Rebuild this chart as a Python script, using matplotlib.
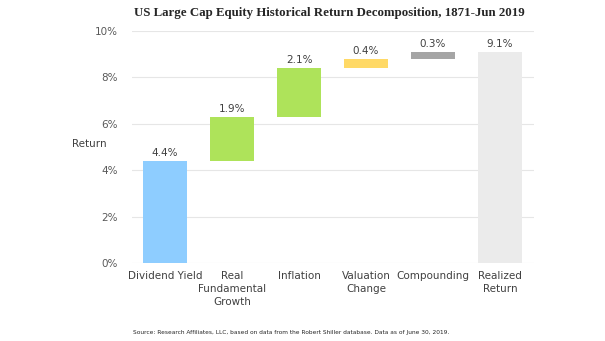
import matplotlib.pyplot as plt

# data
categories = ["Dividend Yield", "Real\nFundamental\nGrowth", "Inflation",
              "Valuation\nChange", "Compounding", "Realized\nReturn"]
contributions = [4.4, 1.9, 2.1, 0.4, 0.3, 9.1]
value_labels = ["4.4%", "1.9%", "2.1%", "0.4%", "0.3%", "9.1%"]
colors = ["#8ECDFF", "#AEE35A", "#AEE35A", "#FFD966", "#A5A5A5", "#EBEBEB"]
y_ticks = [0, 2, 4, 6, 8, 10]

# waterfall bottoms: running sum, last bar is the total from zero
bottoms = []
running = 0.0
for i, v in enumerate(contributions):
    if i == len(contributions) - 1:
        bottoms.append(0.0)
    else:
        bottoms.append(running)
        running += v

fig = plt.figure(figsize=(6.05, 3.41), dpi=100)
ax = fig.add_axes([0.2174, 0.2287, 0.6645, 0.6804])

x = list(range(len(categories)))
ax.bar(x, contributions, bottom=bottoms, width=0.67, color=colors, zorder=3)

for xi, b, v, lab in zip(x, bottoms, contributions, value_labels):
    ax.text(xi, b + v + 0.12, lab, ha="center", va="bottom",
            fontsize=7.5, color="#404040")

ax.set_xlim(-0.5, len(categories) - 0.5)
ax.set_ylim(0, 10)
ax.set_yticks(y_ticks)
ax.set_yticklabels([f"{t}%" for t in y_ticks])
ax.set_xticks(x)
ax.set_xticklabels(categories, fontsize=7.5, color="#404040", linespacing=1.35)
ax.tick_params(axis="y", labelsize=7.5, colors="#595959", length=0, pad=10)
ax.tick_params(axis="x", length=0, pad=6)
ax.grid(axis="y", color="#E6E6E6", linewidth=0.8, zorder=0)
for s in ax.spines.values():
    s.set_visible(False)

ax.set_ylabel("Return", rotation=0, fontsize=7.5, color="#404040", labelpad=14)
ax.yaxis.set_label_coords(-0.105, 0.49)

fig.text(0.545, 0.962, "US Large Cap Equity Historical Return Decomposition, 1871-Jun 2019",
         ha="center", va="center", fontsize=9.3, fontweight="bold",
         family="Liberation Serif", color="#262626")
fig.text(0.482, 0.026, "Source: Research Affiliates, LLC, based on data from the Robert Shiller "
         "database. Data as of June 30, 2019.", ha="center", va="center",
         fontsize=4.2, color="#262626")

fig.savefig("out.png", dpi=100)
